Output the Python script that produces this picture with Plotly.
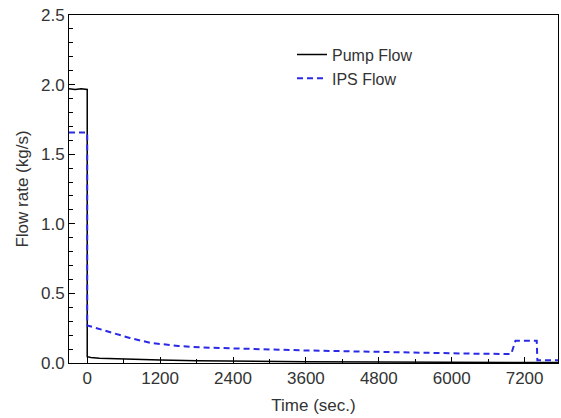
import plotly.graph_objects as go

# Pump flow (kg/s) vs time (s)
pump_time = [-300, -200, -100, 0, 0, 60, 200, 400, 800, 1200, 1800, 2400, 3600, 4800, 6000, 7200, 7750]
pump_flow = [1.97, 1.965, 1.97, 1.965, 0.045, 0.04, 0.035, 0.032, 0.027, 0.022, 0.017, 0.013, 0.009, 0.007, 0.005, 0.004, 0.003]

# IPS flow (kg/s) vs time (s)
ips_time = [-300, 0, 0, 150, 380, 700, 1036, 1500, 1860, 2400, 3000, 3600, 4200, 4800, 5400, 6000, 6500, 6980, 7050, 7400, 7410, 7750]
ips_flow = [1.655, 1.655, 0.27, 0.25, 0.223, 0.18, 0.145, 0.122, 0.112, 0.104, 0.097, 0.09, 0.085, 0.079, 0.072, 0.068, 0.066, 0.065, 0.16, 0.16, 0.02, 0.02]

x_tick_step = 1200
y_tick_step = 0.5

FONT = "Arial, Liberation Sans, sans-serif"
FS = 17

fig = go.Figure()
fig.add_trace(go.Scatter(x=pump_time, y=pump_flow, mode="lines", name="Pump Flow",
                         line=dict(color="black", width=1.5)))
fig.add_trace(go.Scatter(x=ips_time, y=ips_flow, mode="lines", name="IPS Flow",
                         line=dict(color="#2a2ae6", width=2, dash="6px,4px")))

common = dict(showgrid=False, zeroline=False, showline=True, linecolor="black",
              linewidth=1, mirror=True, automargin=False,
              tickfont=dict(family=FONT, size=FS, color="#333"))

fig.update_xaxes(range=[-300, 7750], tickmode="linear", tick0=0, dtick=x_tick_step,
                 ticks="inside", ticklen=6, tickwidth=1.2, tickcolor="black",
                 minor=dict(ticks="inside", dtick=x_tick_step / 2, tick0=0,
                            ticklen=4, tickwidth=1, tickcolor="black"),
                 title=dict(text="Time (sec.)", font=dict(family=FONT, size=FS, color="#333"), standoff=11),
                 **common)
fig.update_yaxes(range=[0, 2.5], tickmode="linear", tick0=0, dtick=y_tick_step,
                 tickformat=".1f", ticks="inside", ticklen=6, tickwidth=1.2, tickcolor="black",
                 minor=dict(ticks="inside", dtick=0.1, tick0=0,
                            ticklen=4, tickwidth=1, tickcolor="black"),
                 title=dict(text="Flow rate (kg/s)", font=dict(family=FONT, size=FS, color="#333"), standoff=8),
                 **common)

fig.update_layout(
    width=561, height=418,
    margin=dict(l=69, r=3, t=15, b=55),
    paper_bgcolor="white", plot_bgcolor="white",
    font=dict(family=FONT, size=FS, color="#333"),
    legend=dict(x=0.456, y=0.935, xanchor="left", yanchor="top",
                bgcolor="rgba(0,0,0,0)", font=dict(family=FONT, size=16, color="#333"),
                tracegroupgap=0, itemwidth=30),
    showlegend=True,
)

fig.write_html(
    "out.html",
    config={"displayModeBar": False},
    post_script="document.body.style.margin='0';document.body.style.overflow='hidden';",
)
